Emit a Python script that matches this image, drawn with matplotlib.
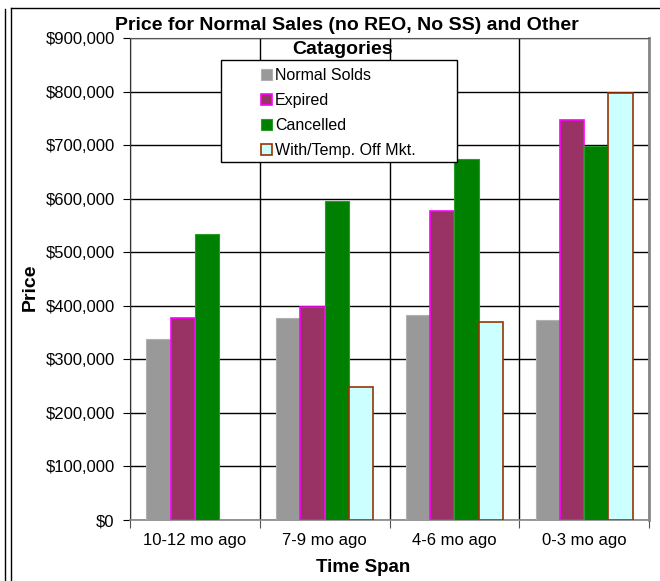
import numpy as np
import matplotlib.pyplot as plt
from matplotlib.lines import Line2D
from matplotlib.patches import Rectangle

# data
spans = ['10-12 mo ago', '7-9 mo ago', '4-6 mo ago', '0-3 mo ago']
normal_solds = [338000, 378000, 383000, 374000]
expired = [378000, 397000, 577000, 746000]
cancelled = [534000, 596000, 675000, 698000]
with_off_mkt = [np.nan, 248000, 369000, 797000]

series_names = ['Normal Solds', 'Expired', 'Cancelled', 'With/Temp. Off Mkt.']
yticks = list(range(0, 900001, 100000))

plt.rcParams['font.family'] = ['Liberation Sans', 'DejaVu Sans']

fig = plt.figure(figsize=(6.6, 5.81), dpi=100)
ax = fig.add_axes([130/660, 1 - 520/581, 519/660, 482/581])

w = 0.187
x = np.arange(len(spans)) + 0.5
styles = [
    dict(color='#999999', edgecolor='#b0b0b0', linewidth=0.8),
    dict(color='#993366', edgecolor='#ff00ff', linewidth=1.2),
    dict(color='#008000', edgecolor='#2a9a2a', linewidth=0.8),
    dict(color='#ccffff', edgecolor='#993300', linewidth=1.2),
]
for i, (vals, st, name) in enumerate(zip([normal_solds, expired, cancelled, with_off_mkt], styles, series_names)):
    ax.bar(x + (i - 1.5) * w, vals, w, label=name, zorder=3, **st)

ax.set_xlim(0, 4)
ax.set_ylim(0, 900000)
ax.set_yticks(yticks)
ax.set_yticklabels(['$0' if v == 0 else '${:,}'.format(v) for v in yticks], fontsize=12)
ax.set_xticks([0, 1, 2, 3, 4])
ax.set_xticklabels([])
ax.set_xticks(x, minor=True)
ax.set_xticklabels(spans, minor=True, fontsize=12)
ax.tick_params(axis='x', which='minor', length=0, pad=9)
ax.tick_params(axis='x', which='major', length=6, color='#555555', direction='out')
ax.tick_params(axis='y', length=5, color='black', pad=6)

ax.grid(axis='y', color='black', linewidth=1.0, zorder=1)
ax.grid(axis='x', which='major', color='black', linewidth=1.0, zorder=1)
ax.spines['top'].set_color('#555555')
ax.spines['left'].set_color('#333333')
ax.spines['bottom'].set_color('#888888')
ax.spines['bottom'].set_linewidth(1.2)
ax.spines['right'].set_color('#888888')
ax.spines['right'].set_linewidth(2)

fig.text(30/660, 1 - 287/581, 'Price', rotation=90, fontsize=14, fontweight='bold',
         ha='center', va='center')
fig.text(363/660, 1 - 567/581, 'Time Span', fontsize=13.5, fontweight='bold', ha='center', va='center')
fig.text(347/660, 1 - 26/581, 'Price for Normal Sales (no REO, No SS) and Other',
         fontsize=14, fontweight='bold', ha='center', va='center')
fig.text(343/660, 1 - 49/581, 'Catagories', fontsize=14, fontweight='bold', ha='center', va='center')

# legend box (white frame) with entries placed inside it
fig.add_artist(Rectangle((221/660, 1 - 162/581), 236/660, 102/581, transform=fig.transFigure,
                         facecolor='white', edgecolor='black', linewidth=1.0, zorder=4))
leg = ax.legend(loc='upper left', bbox_to_anchor=(258/660, 1 - 65/581),
                bbox_transform=fig.transFigure, fontsize=11.5, frameon=False,
                handlelength=0.65, handleheight=0.65, handletextpad=0.2,
                labelspacing=0.62, borderpad=0.2, borderaxespad=0)
leg.set_zorder(5)
fig.add_artist(leg)

# outer chart frame lines
fig.add_artist(Line2D([5/660, 5/660], [0, 1 - 9/581], color='black', linewidth=1))
fig.add_artist(Line2D([11/660, 11/660], [0, 1 - 8/581], color='black', linewidth=1))
fig.add_artist(Line2D([11/660, 1], [1 - 8/581, 1 - 8/581], color='black', linewidth=1))

fig.savefig('out.png', dpi=100)
